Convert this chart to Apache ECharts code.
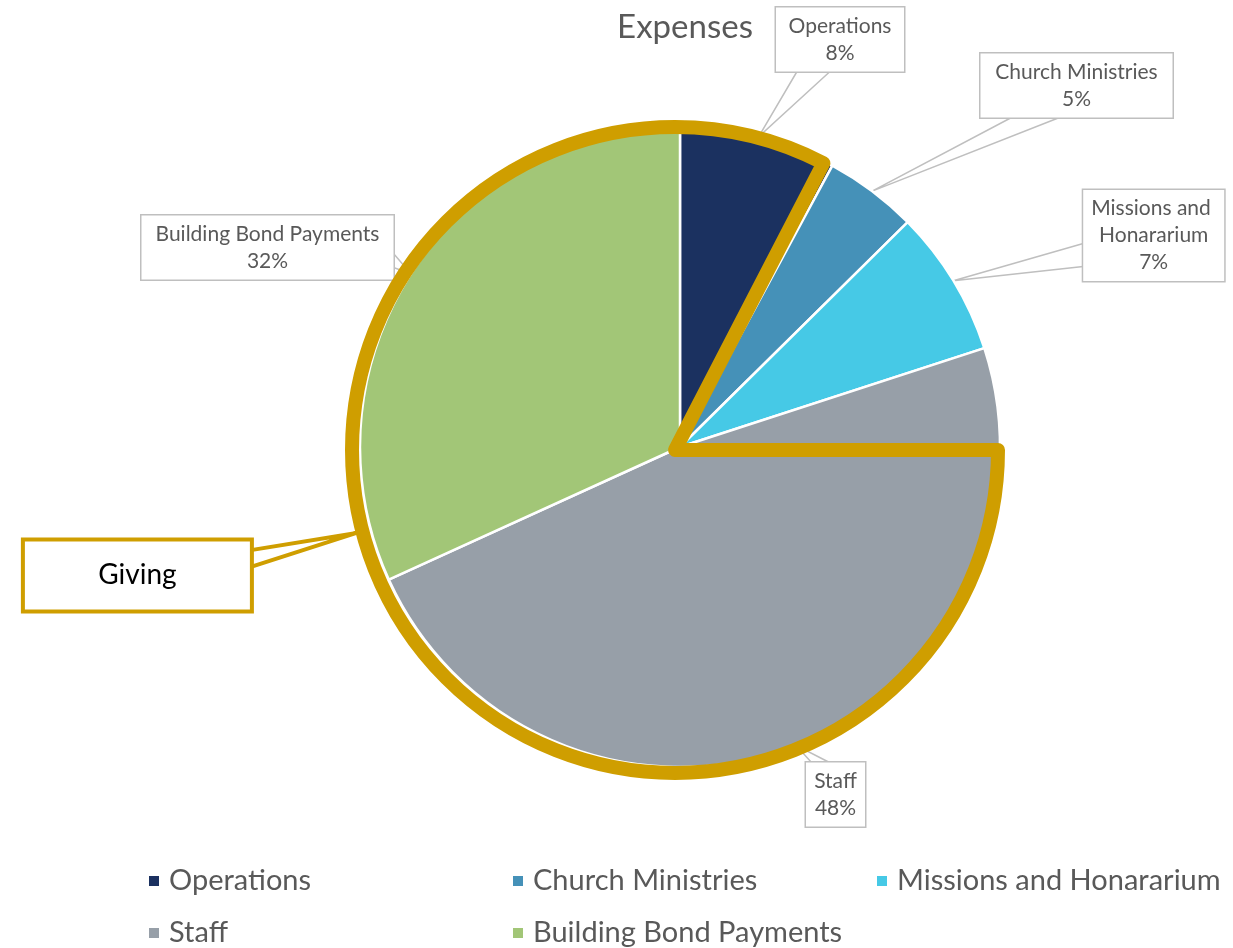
<!DOCTYPE html>
<html><head><meta charset="utf-8">
<script src="https://cdn.jsdelivr.net/npm/echarts@6/dist/echarts.min.js"></script>
<style>html,body{margin:0;padding:0;background:#fff}#chart{width:1233px;height:948px}</style>
</head><body><div id="chart"></div>
<script>
// ---- data ----
const categories = ['Operations', 'Church Ministries', 'Missions and Honararium', 'Staff', 'Building Bond Payments'];
const expenseShares = [7.9, 4.7, 7.4, 48.2, 31.8];
const sliceColors = ['#1b3160', '#4591b8', '#46c9e6', '#979fa8', '#a2c677'];
const highlightNames = ['Giving', 'rest'];
const highlightShares = [82.6, 17.4];
const legendColumns = [
  ['Operations', 'Staff'],
  ['Church Ministries', 'Building Bond Payments'],
  ['Missions and Honararium']
];

// ---- layout / style ----
const FONT = 'Lato';
const GOLD = '#cf9e00';
const TEXT = '#595959';
const pieCenter = [680, 447], pieR = 320;
const hlCenter = [675, 450], hlR = 323;
// label boxes: centre, content width, wedge base points offsets
const labelBoxes = [
  { cx: 840, cy: 39.5, w: 116, base: [[-43, 32], [-10, 32]] },
  { cx: 1076.5, cy: 85.5, w: 180, base: [[-65, 32], [-17, 32]] },
  { cx: 1153.7, cy: 235.5, w: 129, base: [[-70.5, 8], [-70.5, 31]] },
  { cx: 835.5, cy: 794.5, w: 47, base: [[-24, -32], [-6, -32]] },
  { cx: 267.5, cy: 247.5, w: 240, base: [[126, 6], [126, 20]] }
];
const givingBox = { cx: 137.4, cy: 575.4, w: 225, h: 68, base: [[112, -25], [112, -8]], apexAngle: 255.4 };

const chart = echarts.init(document.getElementById('chart'));

const mainData = categories.map((c, i) => ({
  name: c,
  value: expenseShares[i],
  itemStyle: { color: sliceColors[i] },
  label: { width: labelBoxes[i].w }
}));

const hlData = highlightNames.map((n, i) => i === 0 ? {
  name: n, value: highlightShares[i],
  itemStyle: { color: 'rgba(0,0,0,0)', borderColor: GOLD, borderWidth: 14, borderJoin: 'round' },
  label: {
    show: true, formatter: '{b}', color: '#000', fontFamily: FONT, fontSize: 28, lineHeight: 34,
    width: givingBox.w, align: 'center', backgroundColor: '#fff', borderColor: GOLD, borderWidth: 4,
    padding: [(givingBox.h - 34) / 2, 0]
  },
  labelLine: { show: true, lineStyle: { color: GOLD, width: 4 } }
} : {
  name: n, value: highlightShares[i],
  itemStyle: { color: 'rgba(0,0,0,0)', borderWidth: 0 },
  label: { show: false }, labelLine: { show: false }
});

const legendBase = {
  orient: 'vertical', top: 866, padding: 0, itemGap: 22, itemWidth: 12, itemHeight: 12, icon: 'rect',
  selectedMode: false,
  textStyle: { fontFamily: FONT, fontSize: 29, lineHeight: 30, color: TEXT, padding: [0, 0, 0, 4] }
};
const legendLefts = [147, 511, 875];

chart.setOption({
  animation: false,
  title: {
    text: 'Expenses', left: 680, top: 6, textAlign: 'center',
    textStyle: { fontFamily: FONT, fontSize: 33, fontWeight: 'normal', color: TEXT }
  },
  legend: legendColumns.map((cols, i) => Object.assign({}, legendBase, { data: cols, left: legendLefts[i] })),
  series: [
    {
      type: 'pie', name: 'Expenses', center: pieCenter, radius: pieR, startAngle: 90, clockwise: true,
      avoidLabelOverlap: false, silent: true, emphasis: { disabled: true },
      itemStyle: { borderColor: '#fff', borderWidth: 2.5 },
      label: {
        show: true, position: 'outside', fontFamily: FONT, fontSize: 21, lineHeight: 27, color: TEXT,
        align: 'center', overflow: 'break', backgroundColor: '#fff', borderColor: '#bfbfbf', borderWidth: 1.5,
        padding: [5, 6],
        formatter: p => p.name + '\n' + Math.round(p.percent) + '%'
      },
      labelLine: { show: true, length: 10, length2: 10, lineStyle: { color: '#bfbfbf', width: 1.5 } },
      labelLayout: function (p) {
        const b = labelBoxes[p.dataIndex];
        const apex = p.labelLinePoints[0];
        return {
          x: b.cx, y: b.cy, align: 'center', verticalAlign: 'middle',
          labelLinePoints: [[b.cx + b.base[0][0], b.cy + b.base[0][1]], apex, [b.cx + b.base[1][0], b.cy + b.base[1][1]]]
        };
      },
      data: mainData
    },
    {
      type: 'pie', name: 'Giving', center: hlCenter, radius: hlR, startAngle: 0, clockwise: true, z: 5,
      avoidLabelOverlap: false, silent: true, emphasis: { disabled: true },
      label: { position: 'outside' },
      labelLayout: function (p) {
        if (p.dataIndex !== 0) return {};
        const a = givingBox.apexAngle * Math.PI / 180;
        const apex = [hlCenter[0] + (hlR + 6) * Math.sin(a), hlCenter[1] - (hlR + 6) * Math.cos(a)];
        const b = givingBox;
        return {
          x: b.cx, y: b.cy, align: 'center', verticalAlign: 'middle',
          labelLinePoints: [[b.cx + b.base[0][0], b.cy + b.base[0][1]], apex, [b.cx + b.base[1][0], b.cy + b.base[1][1]]]
        };
      },
      data: hlData
    }
  ]
});
</script></body></html>
